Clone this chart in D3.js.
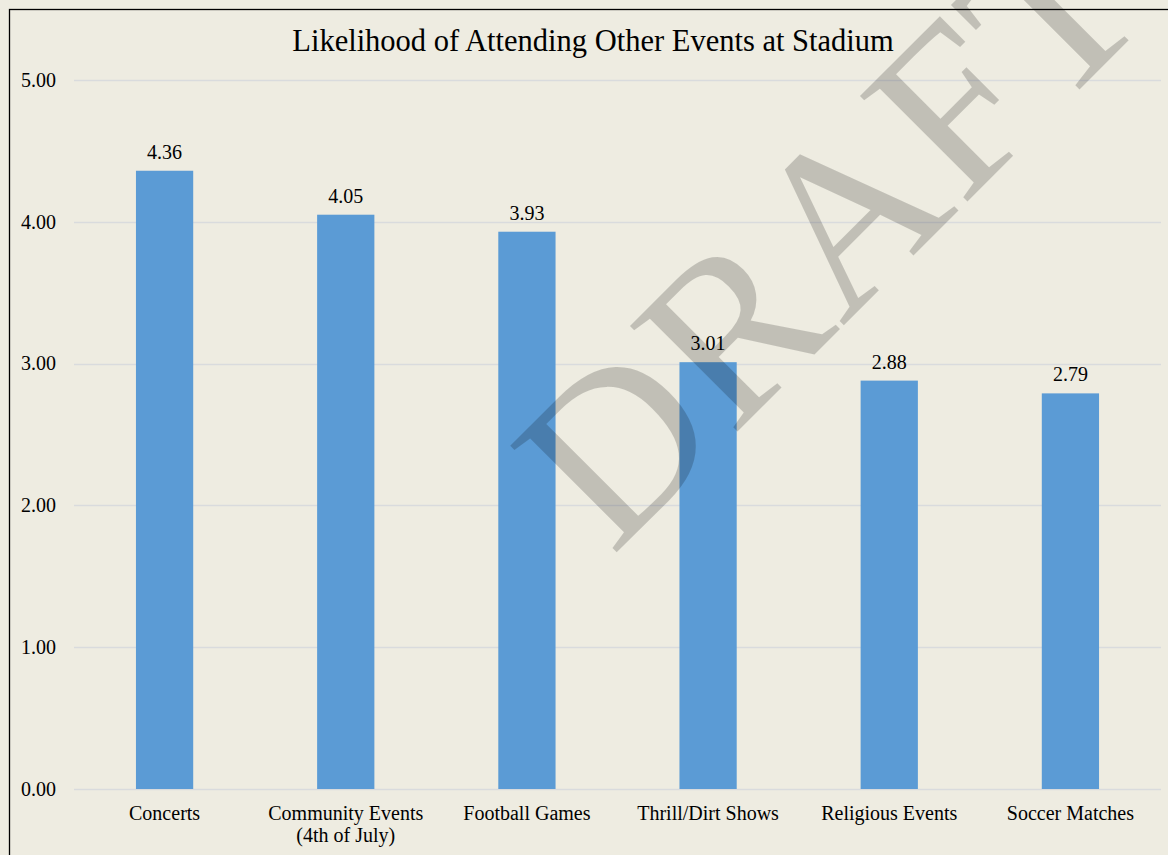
<!DOCTYPE html>
<html>
<head>
<meta charset="utf-8">
<script src="https://cdn.jsdelivr.net/npm/d3@7"></script>
<style>
  html, body { margin: 0; padding: 0; background: #EEECE1; }
  svg { display: block; }
  text { font-family: "Liberation Serif", "Times New Roman", serif; fill: #000; }
</style>
</head>
<body>
<script>
const categories = ["Concerts", "Community Events\n(4th of July)", "Football Games", "Thrill/Dirt Shows", "Religious Events", "Soccer Matches"];
const values = [4.36, 4.05, 3.93, 3.01, 2.88, 2.79];
const yTicks = [0, 1, 2, 3, 4, 5];
const title = "Likelihood of Attending Other Events at Stadium";
const watermark = "DRAFT";

const W = 1168, H = 855;
const svg = d3.select("body").append("svg").attr("width", W).attr("height", H);

svg.append("rect").attr("x", 0).attr("y", 0).attr("width", W).attr("height", H).attr("fill", "#EEECE1");
// frame
svg.append("rect").attr("x", 9.5).attr("y", 9.5).attr("width", W + 20).attr("height", H + 20)
  .attr("fill", "none").attr("stroke", "#000").attr("stroke-width", 1.3);

const x = d3.scaleBand().domain(categories).range([74, 1161]).padding(0);
const y = d3.scaleLinear().domain([0, 5]).range([789, 80]);
const barW = x.bandwidth() * 0.316;

// gridlines
svg.append("g").selectAll("line").data(yTicks).join("line")
  .attr("x1", 74).attr("x2", 1161)
  .attr("y1", d => Math.round(y(d)) + 0.5).attr("y2", d => Math.round(y(d)) + 0.5)
  .attr("stroke", "#D9DBDD").attr("stroke-width", 1.3);

// y tick labels
svg.append("g").selectAll("text").data(yTicks).join("text")
  .attr("x", 56).attr("y", d => y(d)).attr("dy", "0.34em")
  .attr("text-anchor", "end").attr("font-size", 20)
  .text(d => d3.format(".2f")(d));

// bars
svg.append("g").selectAll("rect").data(values).join("rect")
  .attr("x", (d, i) => x(categories[i]) + x.bandwidth() / 2 - barW / 2)
  .attr("width", barW)
  .attr("y", d => y(d))
  .attr("height", d => y(0) - y(d))
  .attr("fill", "#5B9BD5");

// data labels
svg.append("g").selectAll("text").data(values).join("text")
  .attr("x", (d, i) => x(categories[i]) + x.bandwidth() / 2)
  .attr("y", d => y(d) - 12)
  .attr("text-anchor", "middle").attr("font-size", 20)
  .text(d => d3.format(".2f")(d));

// x labels
const xl = svg.append("g").selectAll("text").data(categories).join("text")
  .attr("x", d => x(d) + x.bandwidth() / 2)
  .attr("y", 820)
  .attr("text-anchor", "middle").attr("font-size", 20);
xl.each(function(d) {
  const lines = d.split("\n");
  const t = d3.select(this);
  lines.forEach((ln, k) => {
    t.append("tspan").attr("x", x(d) + x.bandwidth() / 2).attr("dy", k === 0 ? 0 : 22).text(ln);
  });
});

// title
svg.append("text").attr("x", 593).attr("y", 51)
  .attr("text-anchor", "middle").attr("font-size", 30.5).text(title);

// watermark
svg.append("text")
  .attr("transform", "translate(884,285) rotate(-45)")
  .attr("text-anchor", "middle")
  .attr("font-size", 230).attr("letter-spacing", 3)
  .style("fill", "#000").style("fill-opacity", 0.19)
  .text(watermark);
</script>
</body>
</html>
